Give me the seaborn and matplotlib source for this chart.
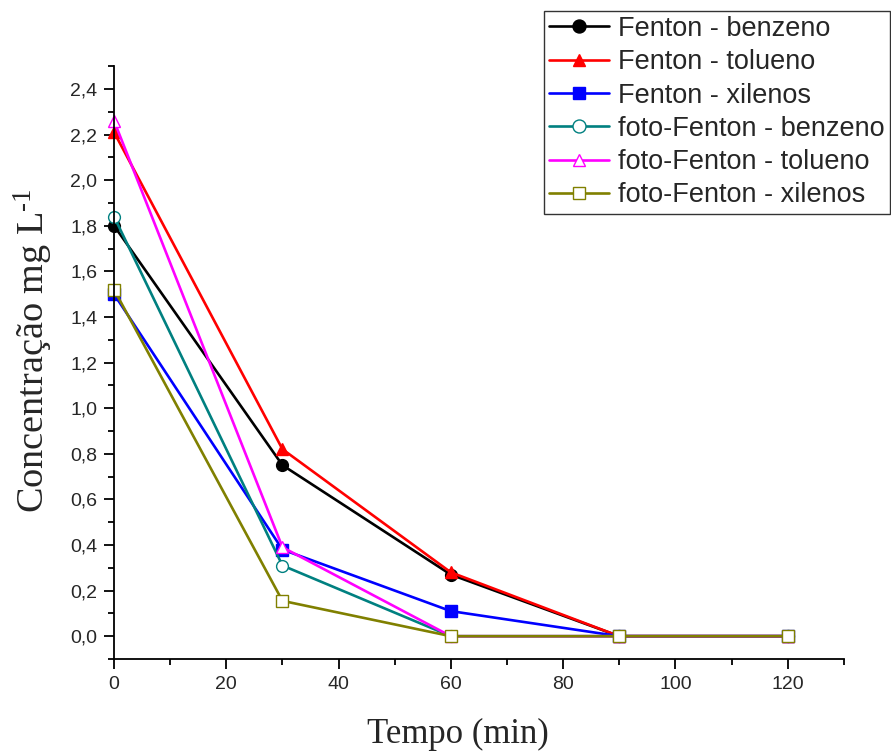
import matplotlib
matplotlib.use("Agg")
import matplotlib.pyplot as plt
import seaborn as sns
import pandas as pd
from matplotlib.ticker import MultipleLocator, FuncFormatter

sns.set_style("ticks")
plt.rcParams['font.family'] = ['Liberation Sans', 'DejaVu Sans']
plt.rcParams['mathtext.fontset'] = 'custom'
plt.rcParams['mathtext.rm'] = 'Liberation Serif'
plt.rcParams['mathtext.it'] = 'Liberation Serif:italic'

tempo = [0, 30, 60, 90, 120]
fenton_benzeno = [1.80, 0.75, 0.27, 0.0, 0.0]
fenton_tolueno = [2.21, 0.82, 0.28, 0.0, 0.0]
fenton_xilenos = [1.50, 0.38, 0.11, 0.0, 0.0]
foto_benzeno = [1.84, 0.31, 0.0, 0.0, 0.0]
foto_tolueno = [2.26, 0.39, 0.0, 0.0, 0.0]
foto_xilenos = [1.52, 0.155, 0.0, 0.0, 0.0]

series = [
    ("Fenton - benzeno", fenton_benzeno, "black", "o", True),
    ("Fenton - tolueno", fenton_tolueno, "#FF0000", "^", True),
    ("Fenton - xilenos", fenton_xilenos, "#0000FF", "s", True),
    ("foto-Fenton - benzeno", foto_benzeno, "#008080", "o", False),
    ("foto-Fenton - tolueno", foto_tolueno, "#FF00FF", "^", False),
    ("foto-Fenton - xilenos", foto_xilenos, "#808000", "s", False),
]

fig = plt.figure(figsize=(8.91, 7.51), dpi=100)
ax = fig.add_axes([0.128, 0.1225, 0.819, 0.7895])

for name, vals, col, mk, filled in series:
    df = pd.DataFrame({"Tempo": tempo, "Conc": vals})
    sns.lineplot(data=df, x="Tempo", y="Conc", ax=ax, color=col, marker=mk,
                 markersize=8.5, linewidth=1.9, mec=col,
                 mfc=col if filled else "white", mew=1.0, label=name,
                 clip_on=False)

ax.set_xlim(0, 130)
ax.set_ylim(-0.1, 2.5)
ax.xaxis.set_major_locator(MultipleLocator(20))
ax.xaxis.set_minor_locator(MultipleLocator(10))
ax.yaxis.set_major_locator(MultipleLocator(0.2))
ax.yaxis.set_minor_locator(MultipleLocator(0.1))
ax.yaxis.set_major_formatter(FuncFormatter(lambda v, p: f"{v:.1f}".replace(".", ",")))
ax.tick_params(axis="both", which="major", length=7, width=1.3, labelsize=14, direction="out",
               color="black", pad=5)
ax.tick_params(axis="both", which="minor", length=4, width=1.3, direction="out", color="black")
for s in ["top", "right"]:
    ax.spines[s].set_visible(False)
for s in ["left", "bottom"]:
    ax.spines[s].set_linewidth(1.3)
    ax.spines[s].set_color("black")

ax.set_xlabel("Tempo (min)", fontsize=25, family=["Liberation Serif"], va="center")
ax.set_ylabel(r"Concentração mg L$^{\text{-1}}$", fontsize=27.5, family=["Liberation Serif"], va="center")
ax.xaxis.set_label_coords(0.471, -0.127)
ax.yaxis.set_label_coords(-0.11, 0.52)

ax.legend().remove()
handles, labels = ax.get_legend_handles_labels()
leg = fig.legend(handles, labels, loc="upper right", bbox_to_anchor=(0.999, 0.986),
                 fontsize=19.5, frameon=True, fancybox=False, edgecolor="black",
                 handlelength=2.2, handletextpad=0.35, labelspacing=0.27,
                 borderpad=0.2, borderaxespad=0, markerscale=1.1)
leg.get_frame().set_linewidth(1.0)

fig.savefig("out.png", dpi=100)
